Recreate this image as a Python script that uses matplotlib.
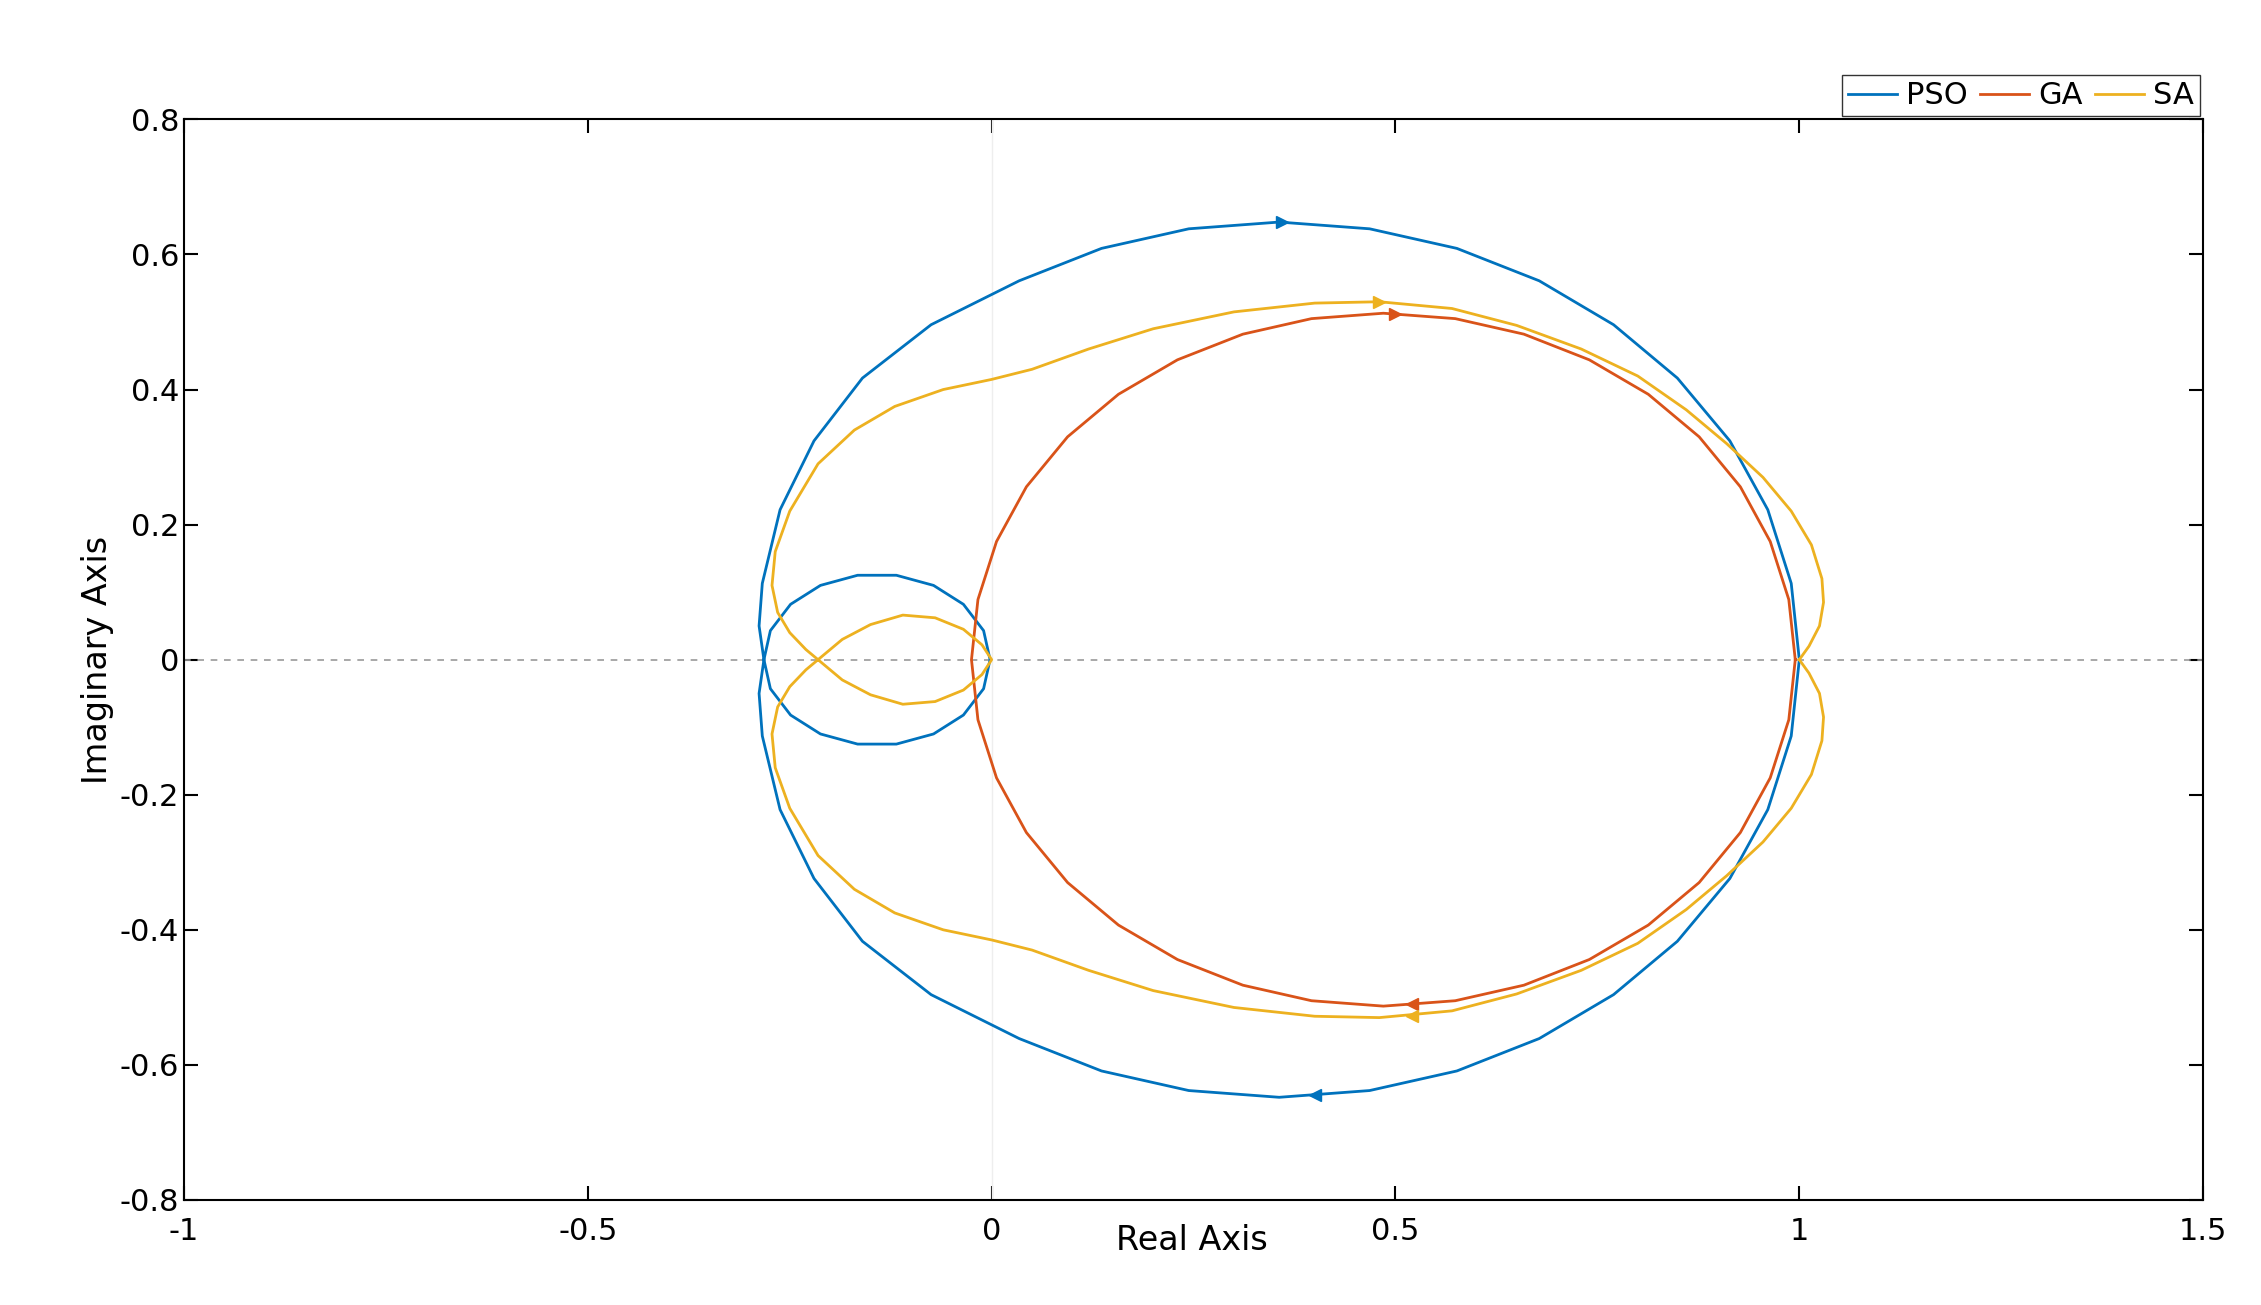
import numpy as np
import matplotlib.pyplot as plt

# points, positive-frequency half; the other half is its mirror
pso_x = [1.0, 0.99, 0.961, 0.914, 0.849, 0.77, 0.678, 0.576, 0.468, 0.356, 0.244, 0.136,
         0.034, -0.075, -0.16, -0.22, -0.262, -0.284, -0.288, -0.282,
         -0.274, -0.249, -0.212, -0.166, -0.118, -0.072, -0.035, -0.01, -0.002]
pso_y = [0.0, 0.113, 0.222, 0.324, 0.417, 0.496, 0.561, 0.609, 0.638, 0.648, 0.638, 0.609,
         0.561, 0.496, 0.417, 0.324, 0.222, 0.113, 0.05, 0.0,
         -0.043, -0.082, -0.11, -0.125, -0.125, -0.11, -0.082, -0.043, 0.0]
ga_x = [0.995, 0.987, 0.964, 0.927, 0.876, 0.813, 0.74, 0.659, 0.574, 0.485, 0.396, 0.311,
        0.23, 0.157, 0.094, 0.043, 0.006, -0.017, -0.025]
ga_y = [0.0, 0.089, 0.175, 0.256, 0.33, 0.393, 0.444, 0.482, 0.505, 0.513, 0.505, 0.482,
        0.444, 0.393, 0.33, 0.256, 0.175, 0.089, 0.0]
sa_x = [1.0, 1.012, 1.025, 1.03, 1.028, 1.015, 0.99, 0.955, 0.91, 0.86, 0.8, 0.73, 0.65,
        0.57, 0.48, 0.4, 0.3, 0.2, 0.12, 0.05, 0.0, -0.06, -0.12, -0.17, -0.215, -0.25,
        -0.268, -0.272, -0.265, -0.25, -0.23, -0.21, -0.185, -0.15, -0.11, -0.07, -0.035,
        -0.012, 0.0]
sa_y = [0.0, 0.02, 0.05, 0.085, 0.12, 0.17, 0.22, 0.27, 0.32, 0.37, 0.42, 0.46, 0.495,
        0.52, 0.53, 0.528, 0.515, 0.49, 0.46, 0.43, 0.415, 0.4, 0.375, 0.34, 0.29, 0.22,
        0.16, 0.11, 0.07, 0.04, 0.015, -0.005, -0.03, -0.052, -0.066, -0.062, -0.045,
        -0.022, 0.0]
arrows = {  # top arrow (x, y), bottom arrow (x, y)
    "PSO": (0.36, 0.648, 0.40, -0.645),
    "GA": (0.50, 0.512, 0.52, -0.51),
    "SA": (0.48, 0.53, 0.52, -0.527),
}
colors = {"PSO": "#0072BD", "GA": "#D95319", "SA": "#EDB120"}


def closed(xs, ys):
    xs, ys = np.array(xs), np.array(ys)
    return np.concatenate([xs, xs[::-1]]), np.concatenate([ys, -ys[::-1]])


fig = plt.figure(figsize=(22.61, 13.05), dpi=100)
ax = fig.add_axes([0.0814, 0.0805, 0.893, 0.828])
ax.axhline(0, color="#999999", ls=(0, (4, 4)), lw=1.2)
ax.axvline(0, color="#eeeeee", lw=1)

for name, xs, ys in [("PSO", pso_x, pso_y), ("GA", ga_x, ga_y), ("SA", sa_x, sa_y)]:
    cx, cy = closed(xs, ys)
    ax.plot(cx, cy, color=colors[name], lw=2, label=name)
    xt, yt, xb, yb = arrows[name]
    ax.plot(xt, yt, marker=">", color=colors[name], ms=9)
    ax.plot(xb, yb, marker="<", color=colors[name], ms=9)

ax.set_xlim(-1, 1.5)
ax.set_ylim(-0.8, 0.8)
ax.set_xticks([-1, -0.5, 0, 0.5, 1, 1.5])
ax.set_xticklabels(["-1", "-0.5", "0", "0.5", "1", "1.5"])
ax.set_yticks(np.arange(-0.8, 0.81, 0.2))
ax.set_yticklabels(["-0.8", "-0.6", "-0.4", "-0.2", "0", "0.2", "0.4", "0.6", "0.8"])
ax.tick_params(direction="in", top=True, right=True, labelsize=22, length=10, width=1.5)
ax.tick_params(axis="x", pad=12)
for s in ax.spines.values():
    s.set_linewidth(1.5)
ax.set_xlabel("Real Axis", fontsize=24)
ax.xaxis.set_label_coords(0.499, -0.022)
ax.set_ylabel("Imaginary Axis", fontsize=24)

ax.legend(ncol=3, loc="lower right", bbox_to_anchor=(1.0, 1.0), fontsize=22,
          frameon=True, fancybox=False, edgecolor="black", handlelength=1.6,
          handletextpad=0.3, columnspacing=0.4, borderpad=0.2, borderaxespad=0.1)

fig.savefig("out.png", dpi=100)
